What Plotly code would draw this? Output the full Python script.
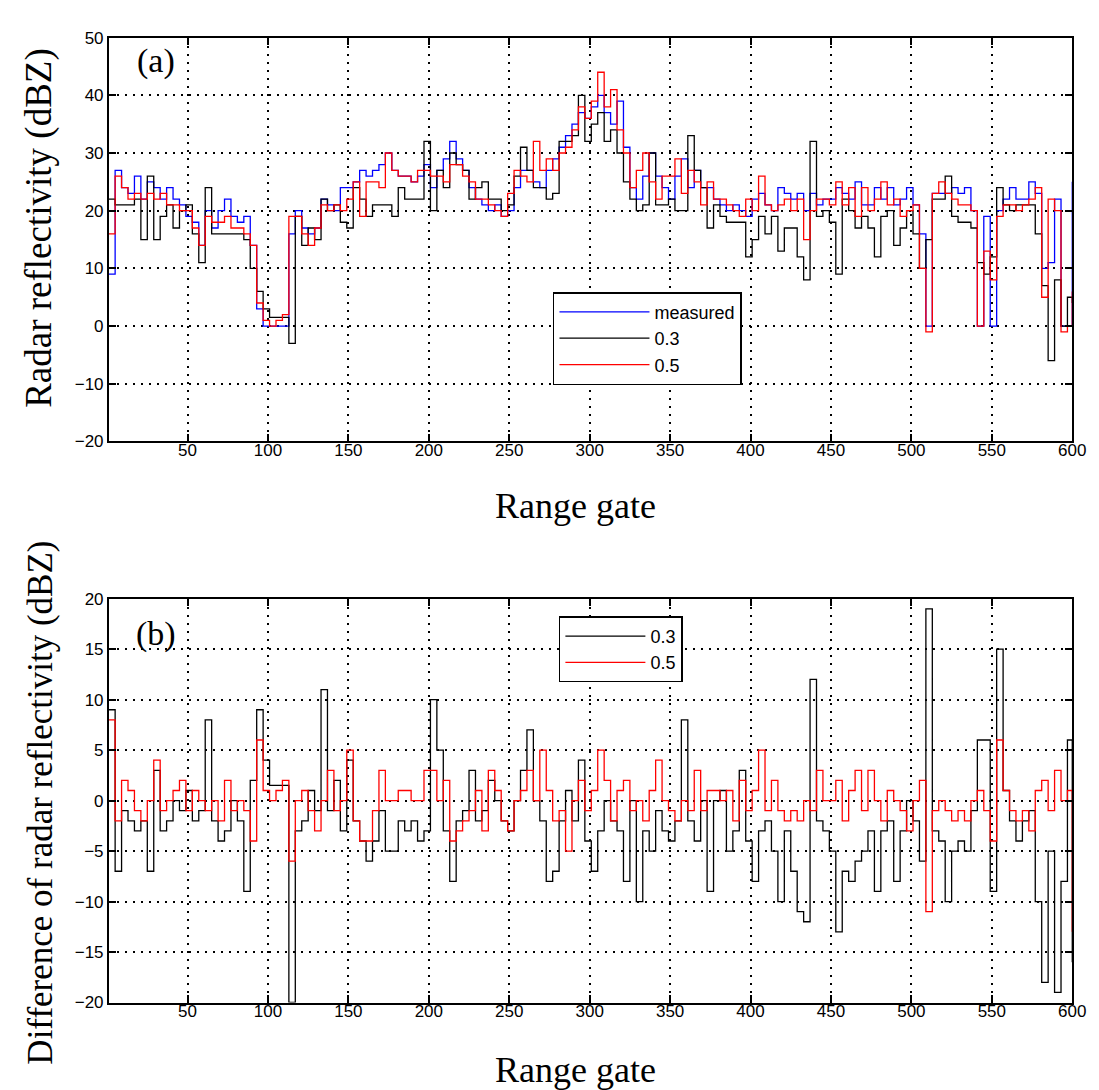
import plotly.graph_objects as go

# range gates sampled every 4 gates, plus the last gate
gates = list(range(1, 601, 4)) + [600]

# panel (a): radar reflectivity (dBZ)
measured = [
    9, 27, 24, 23, 26, 22, 25, 24, 22, 24,
    22, 21, 19, 18, 14, 20, 17, 20, 22, 19,
    18, 19, 14, 3, 0, 0, 0, 0, 16, 20,
    17, 16, 17, 22, 21, 20, 24, 24, 25, 27,
    26, 27, 28, 30, 27, 26, 26, 25, 26, 28,
    24, 27, 29, 32, 29, 27, 24, 22, 21, 20,
    21, 19, 20, 24, 27, 27, 25, 24, 27, 29,
    31, 33, 35, 37, 36, 38, 40, 37, 35, 39,
    31, 24, 22, 26, 30, 26, 24, 22, 26, 29,
    24, 27, 24, 24, 22, 21, 20, 21, 20, 19,
    22, 23, 21, 20, 24, 23, 22, 23, 20, 23,
    21, 22, 22, 24, 23, 22, 25, 21, 21, 24,
    22, 24, 21, 22, 24, 21, 16, 0, 23, 23,
    23, 24, 23, 24, 20, 0, 19, 0, 20, 22,
    24, 22, 22, 25, 23, 10, 11, 22, 0, 0,
    25,
]
a_03 = [
    22, 21, 21, 21, 22, 15, 26, 15, 19, 21,
    17, 20, 21, 16, 11, 24, 16, 16, 16, 16,
    16, 15, 10, 6, 3, 1.5, 1.5, 1.5, -3, 19,
    14, 17, 15, 22, 20, 21, 18, 17, 24, 22,
    19, 21, 21, 21, 19, 24, 22, 22, 22, 32,
    20, 27, 24, 30, 28, 27, 22, 24, 25, 22,
    22, 20, 21, 26, 31, 27, 24, 24, 22, 23,
    32, 32, 33, 40, 32, 35, 37, 32, 34, 30,
    25, 22, 20, 21, 30, 21, 21, 22, 20, 20,
    33, 27, 24, 17, 21, 19, 18, 18, 18, 12,
    15, 19, 16, 19, 13, 17, 17, 12, 8, 32,
    19, 20, 18, 9, 22, 20, 17, 19, 17, 12,
    19, 20, 14, 17, 20, 16, 10, 15, 22, 22,
    26, 19, 18, 18, 17, 11, 9, 12, 24, 21,
    20, 21, 21, 21, 16, 7, -6, 8, 0, 5,
    4,
]
a_05 = [
    16, 26, 24, 22, 23, 22, 23, 22, 23, 21,
    21, 20, 20, 17, 14, 19, 18, 18, 19, 17,
    17, 16, 14, 4, 1, 0, 1, 2, 19, 19,
    16, 14, 17, 21, 20, 21, 20, 22, 25, 19,
    25, 25, 24, 30, 27, 26, 26, 25, 27, 27,
    26, 26, 25, 28, 28, 26, 25, 22, 22, 21,
    20, 19, 23, 27, 26, 25, 32, 27, 29, 27,
    30, 31, 34, 38, 36, 39, 44, 38, 41, 34,
    30, 24, 27, 30, 25, 22, 26, 26, 29, 23,
    27, 25, 21, 25, 22, 22, 21, 20, 19, 22,
    20, 26, 21, 20, 21, 22, 20, 22, 15, 20,
    22, 22, 21, 25, 21, 24, 19, 24, 20, 22,
    25, 21, 22, 19, 20, 21, 10, -1, 23, 25,
    23, 22, 21, 21, 20, 0, 13, 8, 19, 21,
    21, 20, 21, 22, 24, 5, 22, 20, -1, 0,
    6,
]

# panel (b): difference of radar reflectivity (dBZ)
b_03 = [
    9, -7, -1, -2, -3, -2, -7, 3, -3, -2,
    0, -1, 1, -2, -1, 8, -2, -4, -3, 0,
    -2, -9, 2, 9, 4, 1.5, 1.5, 1.5, -20, -3,
    -2, 1, -1, 11, -1, 2, -3, 4, -2, -4,
    -6, -4, -1, -5, -5, -2, -3, -2, -4, -3,
    10, 5, -3, -8, -2, -1, 3, -2, -1, 2,
    0, -2, -3, 0, 3, 7, 0, -2, -8, -7,
    -2, 1, -2, 4, -4, -7, -3, 0, -2, -3,
    -8, 0, -10, -3, -5, -1, -3, -4, -2, 8,
    -2, -4, 0, -9, 0, 1, -5, -3, 3, -4,
    -8, -3, -2, -5, -10, -3, -7, -11, -12, 12,
    -2, -3, -5, -13, -7, -8, -6, -5, -3, -9,
    -3, -2, -8, -3, 0, -2, -6, 19, -3, -4,
    -10, -5, -4, -5, -1, 6, 6, -9, 15, 1,
    -2, -4, -2, -1, -10, -18, -5, -19, -8, 6,
    -16,
]
b_05 = [
    8, -2, 2, 1, -1, -2, 0, 4, -1, 0,
    1, 2, -1, 1, 0, -1, 0, -2, 2, -1,
    0, -1, -4, 6, 1, 0, 1, 2, -6, 0,
    1, -1, -3, 0, 3, -1, 0, 5, -2, -4,
    -4, -1, 3, 0, 0, 1, 1, 0, 0, 3,
    3, 0, 2, -4, -3, -2, -1, 1, -3, 3,
    1, -2, -3, 0, 1, 3, 0, 5, 1, -2,
    -1, -5, 0, 2, -1, 1, 5, 2, -2, 1,
    2, -1, 0, -2, 1, 4, 0, -1, -2, 0,
    -1, 3, -1, 1, 1, 0, 1, -2, 2, -1,
    1, 5, -1, 2, -1, -2, -1, -2, 0, -1,
    3, 0, 0, 2, -2, 1, 3, -1, 3, 0,
    -2, 1, 0, -1, -3, 0, 2, -11, -1, 0,
    -1, -2, -1, -2, 0, 1, -1, -4, 6, 1,
    -1, -2, -1, -3, 1, 2, -1, 3, 0, 1,
    -13,
]

x_ticks = list(range(50, 601, 50))
W, H = 1099, 1090
serif = "Liberation Serif, Times New Roman, serif"
sans = "Liberation Sans Narrow, Liberation Sans, Arial, sans-serif"

fig = go.Figure()
fig.add_trace(go.Scatter(x=gates, y=measured, name="measured", line=dict(color="#0000ff", width=1.3, shape="hv"),
                         xaxis="x", yaxis="y", legend="legend"))
fig.add_trace(go.Scatter(x=gates, y=a_03, name="0.3", line=dict(color="black", width=1.3, shape="hv"),
                         xaxis="x", yaxis="y", legend="legend"))
fig.add_trace(go.Scatter(x=gates, y=a_05, name="0.5", line=dict(color="#ff0000", width=1.3, shape="hv"),
                         xaxis="x", yaxis="y", legend="legend"))
fig.add_trace(go.Scatter(x=gates, y=b_03, name="0.3", line=dict(color="black", width=1.3, shape="hv"),
                         xaxis="x2", yaxis="y2", legend="legend2"))
fig.add_trace(go.Scatter(x=gates, y=b_05, name="0.5", line=dict(color="#ff0000", width=1.3, shape="hv"),
                         xaxis="x2", yaxis="y2", legend="legend2"))

ax = dict(showline=True, linecolor="black", linewidth=1.5, mirror="ticks", ticks="inside", ticklen=8,
          tickwidth=1.5, tickcolor="black", showgrid=True, gridcolor="black", griddash="2px,6px", gridwidth=1.5,
          zeroline=False, tickfont=dict(family=sans, size=17, color="black"))

xdom = [102 / W, 1078 / W]
fig.update_layout(
    width=W, height=H, margin=dict(l=0, r=0, t=0, b=0),
    paper_bgcolor="white", plot_bgcolor="white",
    xaxis=dict(ax, domain=xdom, anchor="y", range=[1, 600], tickvals=x_ticks, ticklabelstandoff=-8),
    yaxis=dict(ax, domain=[1 - 432 / H, 1 - 21 / H], anchor="x", range=[-20, 50], tickvals=list(range(-20, 51, 10))),
    xaxis2=dict(ax, domain=xdom, anchor="y2", range=[1, 600], tickvals=x_ticks, ticklabelstandoff=-8),
    yaxis2=dict(ax, domain=[1 - 1003 / H, 1 - 592 / H], anchor="x2", range=[-20, 20], tickvals=list(range(-20, 21, 5))),
    legend=dict(x=552 / W, y=1 - 280 / H, xanchor="left", yanchor="top", bgcolor="white", bordercolor="black",
                borderwidth=1.5, itemwidth=90, font=dict(family=sans, size=18, color="black")),
    legend2=dict(x=558 / W, y=1 - 610 / H, xanchor="left", yanchor="top", bgcolor="white", bordercolor="black",
                 borderwidth=1.5, itemwidth=80, font=dict(family=sans, size=18, color="black")),
)

labels = [
    ("Radar reflectivity (dBZ)", 32, 215, -90, 37),
    ("Range gate", 575, 498, 0, 36),
    ("Difference of radar reflectivity (dBZ)", 32, 800, -90, 35),
    ("Range gate", 575, 1072, 0, 36),
    ("(a)", 150, 45, 0, 34),
    ("(b)", 150, 628, 0, 34),
]
for text, px, py, ang, size in labels:
    fig.add_annotation(text=text, x=px / W, y=1 - py / H, xref="paper", yref="paper", showarrow=False,
                       textangle=ang, xanchor="center", yanchor="middle",
                       font=dict(family=serif, size=size, color="black"))

fig.write_html("out.html")
